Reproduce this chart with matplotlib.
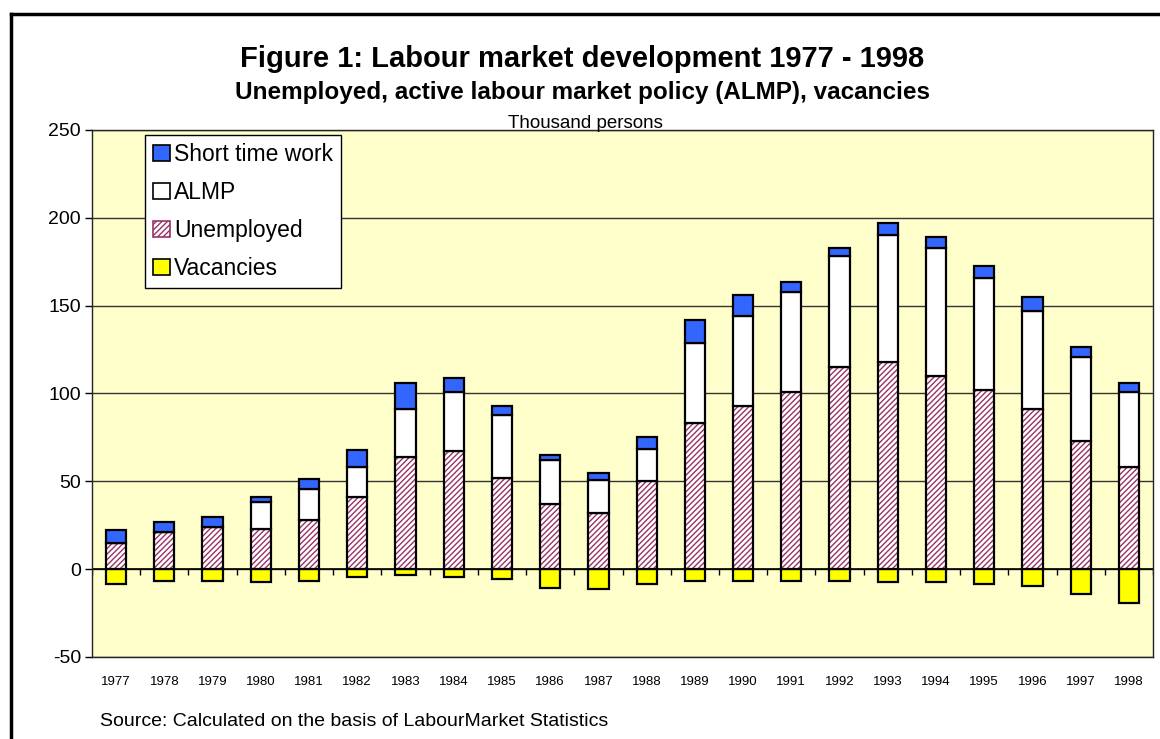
import numpy as np
import matplotlib
matplotlib.use('Agg')
import matplotlib.pyplot as plt
from matplotlib.patches import Patch
from matplotlib.lines import Line2D

plt.rcParams['font.family'] = ['Liberation Sans', 'DejaVu Sans']
plt.rcParams['hatch.linewidth'] = 1.0
plt.rcParams['axes.unicode_minus'] = False

years = ['1977', '1978', '1979', '1980', '1981', '1982', '1983', '1984', '1985', '1986', '1987',
         '1988', '1989', '1990', '1991', '1992', '1993', '1994', '1995', '1996', '1997', '1998']
unemployed = [15, 21, 24, 23, 28, 41, 64, 67, 52, 37, 32, 50, 83, 93, 101, 115, 118, 110, 102, 91, 73, 58]
almp = [0, 0, 0, 15, 17.5, 17, 27, 34, 36, 25, 19, 18.5, 46, 51, 57, 63, 72, 73, 64, 56, 48, 43]
short_time = [7, 6, 5.5, 3, 6, 10, 15, 8, 5, 3, 3.5, 7, 13, 12, 5.5, 5, 7, 6, 6.5, 8, 5.5, 5]
vacancies = [-8.5, -6.5, -6.5, -7.5, -6.5, -4.5, -3.5, -4.5, -5.5, -10.5, -11.5, -8.5, -6.5, -6.5,
             -6.5, -6.5, -7.5, -7.5, -8.5, -9.5, -14, -19.5]

blue = '#3366FF'
yellow = '#FFFF00'
hatch_col = '#993366'
bg = '#FFFFCC'

x = np.arange(len(years))
w = 0.42
unemployed = np.array(unemployed)
almp = np.array(almp)
short_time = np.array(short_time)

fig = plt.figure(figsize=(11.6, 7.39), dpi=100)
ax = fig.add_axes([0.0793, 0.111, 0.9147, 0.7131])
ax.set_facecolor(bg)

ax.set_ylim(-50, 250)
ax.set_xlim(-0.5, len(years) - 0.5)
ax.set_yticks(np.arange(-50, 251, 50))
ax.yaxis.grid(True, color='#333333', linewidth=1)
ax.set_axisbelow(True)

# zero line with category separators
ax.axhline(0, color='black', linewidth=1.2, zorder=1)
ax.plot(np.arange(len(years) + 1) - 0.5, np.zeros(len(years) + 1), linestyle='none',
        marker=3, markersize=4, color='black', zorder=1)

edge = dict(edgecolor='black', linewidth=1.6, zorder=3)
ax.bar(x, vacancies, w, color=yellow, **edge)
ax.bar(x, unemployed, w, color='white', edgecolor=hatch_col, hatch='//////', linewidth=0, zorder=3)
ax.bar(x, unemployed, w, fill=False, **edge)
ax.bar(x, almp, w, bottom=unemployed, color='white', **edge)
ax.bar(x, short_time, w, bottom=unemployed + almp, color=blue, **edge)

ax.set_xticks(x)
ax.set_xticklabels(years, fontsize=9.5)
ax.tick_params(axis='x', length=0, pad=14)
ax.tick_params(axis='y', labelsize=14, length=5, width=1, pad=3)
for s in ax.spines.values():
    s.set_color('#222222')
    s.set_linewidth(1)

handles = [Patch(facecolor=blue, edgecolor='black', linewidth=1.2),
           Patch(facecolor='white', edgecolor='black', linewidth=1.2),
           Patch(facecolor='white', edgecolor=hatch_col, hatch='//////', linewidth=1.2),
           Patch(facecolor=yellow, edgecolor='black', linewidth=1.2)]
leg = ax.legend(handles, ['Short time work', 'ALMP', 'Unemployed', 'Vacancies'],
                loc='upper left', bbox_to_anchor=(0.05, 0.99), borderaxespad=0,
                fontsize=16.5, handlelength=0.72, handleheight=0.72, handletextpad=0.2,
                labelspacing=0.65, borderpad=0.35, fancybox=False, framealpha=1,
                edgecolor='black')
leg.get_frame().set_linewidth(1)
leg.set_zorder(5)

fig.text(0.502, 0.9093, 'Figure 1: Labour market development 1977 - 1998',
         ha='center', va='baseline', fontsize=21, fontweight='bold')
fig.text(0.502, 0.866, 'Unemployed, active labour market policy (ALMP), vacancies',
         ha='center', va='baseline', fontsize=17.5, fontweight='bold')
fig.text(0.505, 0.8268, 'Thousand persons', ha='center', va='baseline', fontsize=13.5)
fig.text(0.086, 0.0176, 'Source: Calculated on the basis of LabourMarket Statistics',
         ha='left', va='baseline', fontsize=14)

# outer frame (left and top edges)
fig.add_artist(Line2D([0.0095, 0.0095], [0, 0.981], transform=fig.transFigure,
                      color='black', linewidth=2.5))
fig.add_artist(Line2D([0.0095, 1], [0.981, 0.981], transform=fig.transFigure,
                      color='black', linewidth=2.5))

fig.savefig('out.png', dpi=100)
